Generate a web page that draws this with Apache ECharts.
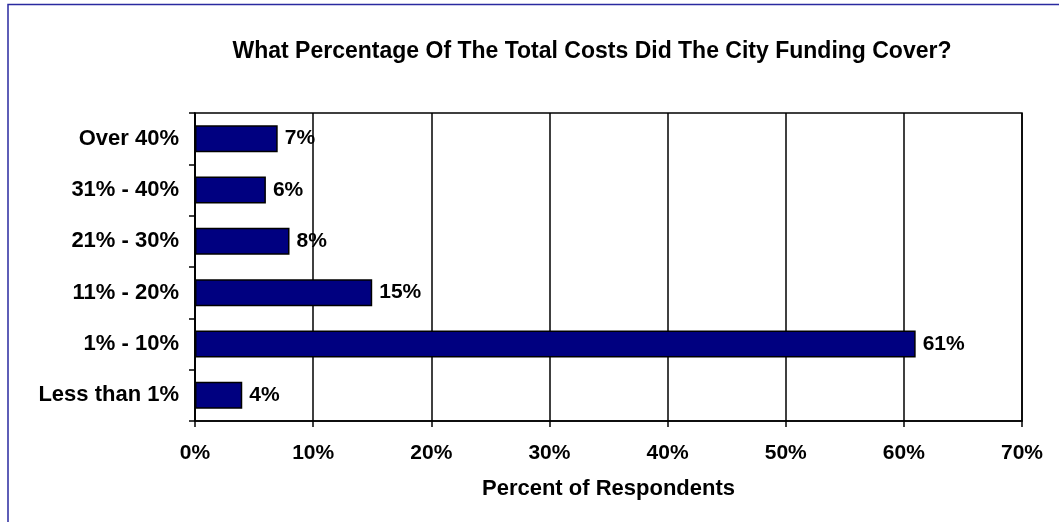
<!DOCTYPE html>
<html>
<head>
<meta charset="utf-8">
<script src="https://cdn.jsdelivr.net/npm/echarts@6/dist/echarts.min.js"></script>
<style>
  html, body { margin: 0; padding: 0; background: #fff; }
  #chart { width: 1059px; height: 522px; }
</style>
</head>
<body>
<div id="chart"></div>
<script>
// Survey answers, listed bottom to top as drawn on the category axis
const categories = ['Less than 1%', '1% - 10%', '11% - 20%', '21% - 30%', '31% - 40%', 'Over 40%'];
const respondents = [4, 61, 15, 8, 6, 7];
const xTicks = [0, 10, 20, 30, 40, 50, 60, 70];

const titleText = 'What Percentage Of The Total Costs Did The City Funding Cover?';
const xAxisName = 'Percent of Respondents';

const FONT = '"Liberation Sans", Arial, sans-serif';

const chart = echarts.init(document.getElementById('chart'), null, { renderer: 'canvas' });

chart.setOption({
  backgroundColor: '#ffffff',
  animation: false,
  title: {
    text: titleText,
    left: 587,
    top: 35,
    textAlign: 'center',
    textStyle: { fontFamily: FONT, fontWeight: 'bold', fontSize: 23, color: '#000' }
  },
  graphic: [{
    // outer frame, open on the right and bottom edges
    type: 'rect',
    shape: { x: 8, y: 4.5, width: 1200, height: 700 },
    style: { fill: 'none', stroke: '#2a2aa0', lineWidth: 1.5 },
    silent: true
  }],
  grid: {
    left: 195, right: 37, top: 113, bottom: 101,
    show: true, borderColor: '#000', borderWidth: 1.5, backgroundColor: '#fff'
  },
  xAxis: {
    type: 'value',
    min: xTicks[0],
    max: xTicks[xTicks.length - 1],
    interval: 10,
    name: xAxisName,
    nameLocation: 'middle',
    nameGap: 57,
    nameTextStyle: { fontFamily: FONT, fontWeight: 'bold', fontSize: 22, color: '#000' },
    axisLine: { show: true, lineStyle: { color: '#000', width: 1.5 } },
    axisTick: { show: true, length: 6, lineStyle: { color: '#000', width: 1.5 } },
    axisLabel: {
      margin: 22,
      fontFamily: FONT, fontWeight: 'bold', fontSize: 21, color: '#000',
      formatter: v => v + '%'
    },
    splitLine: { show: true, lineStyle: { color: '#000', width: 1.5 } }
  },
  yAxis: {
    type: 'category',
    data: categories,
    axisLine: { show: true, lineStyle: { color: '#000', width: 1.5 } },
    axisTick: { show: true, length: 6, inside: false, alignWithLabel: false, lineStyle: { color: '#000', width: 1.5 } },
    axisLabel: {
      margin: 16,
      fontFamily: FONT, fontWeight: 'bold', fontSize: 22, color: '#000'
    },
    splitLine: { show: false }
  },
  series: [{
    type: 'bar',
    data: respondents,
    barWidth: 27,
    itemStyle: { color: '#000080', borderColor: '#000', borderWidth: 1.5 },
    label: {
      show: true,
      position: 'right',
      distance: 7,
      fontFamily: FONT, fontWeight: 'bold', fontSize: 21, color: '#000',
      formatter: p => p.value + '%'
    }
  }]
});
</script>
</body>
</html>
